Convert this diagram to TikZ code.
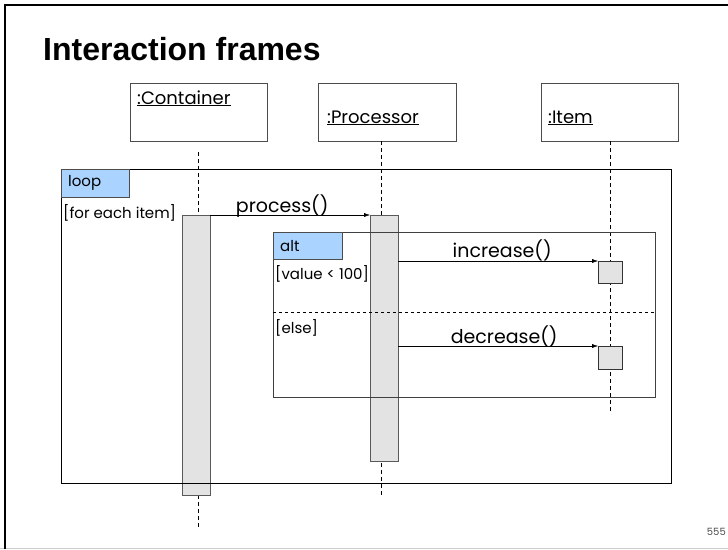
\documentclass[tikz,border=0pt]{standalone}
\usepackage{fontspec}
\setmainfont{Poppins}
\newfontfamily\titlefont{Liberation Sans}
\usetikzlibrary{arrows.meta, positioning, calc}

\definecolor{tabblue}{RGB}{170,212,255}

\tikzset{
  lifehead/.style={draw=black!70, fill=white, anchor=north west, inner sep=0pt,
    minimum width=137pt, minimum height=58pt},
  headtext/.style={anchor=base west, inner sep=0pt, font=\fontsize{18}{20}\selectfont},
  actbox/.style={draw=black!65, fill=black!11, anchor=north west, inner sep=0pt},
  framebox/.style={draw=black, anchor=north west, inner sep=0pt},
  tabbox/.style={draw=black!70, fill=tabblue, anchor=north west, inner xsep=7pt,
    text width=54pt, minimum height=28pt, align=left, font=\fontsize{15}{17}\selectfont},
  guard/.style={anchor=base west, inner sep=0pt, font=\fontsize{15}{17}\selectfont},
  lifeline/.style={draw=black, dash pattern=on 4pt off 3pt},
  msg/.style={draw=black, -{Latex[length=6pt,width=4pt]}},
  msgtext/.style={anchor=base, inner sep=0pt, font=\fontsize{19}{21}\selectfont}
}

\begin{document}
\begin{tikzpicture}[x=1pt, y=-1pt]
  \useasboundingbox (0,0) rectangle (728,549);

  % slide
  \draw[black!20] (0,548) -- (728,548);
  \draw[line width=2.5pt] (5,549) -- (5,5) -- (728,5);
  \node[anchor=base west, inner sep=0pt, font=\titlefont\bfseries\fontsize{32}{36}\selectfont]
    (title) at (43,60) {Interaction frames};
  \node[anchor=base east, inner sep=0pt, text=black!70, font=\fontsize{10}{12}\selectfont]
    (pagenum) at (726,535) {555};

  % lifeline heads
  \node[lifehead] (container) at (130,83) {};
  \node[lifehead, minimum width=138pt] (processor) at (318,83) {};
  \node[lifehead] (item) at (541,83) {};
  \node[headtext] at (137,104) {\underline{:Container}};
  \node[headtext] at (327,123) {\underline{:Processor}};
  \node[headtext] at (548,123) {\underline{:Item}};

  % lifelines
  \coordinate (cTop) at (198,152);
  \coordinate (cEnd) at (198,529);
  \coordinate (pEnd) at (381,495);
  \coordinate (iEnd) at (610,413);
  \draw[lifeline] (cTop) -- (cEnd);
  \draw[lifeline] (processor.south -| pEnd) -- (pEnd);
  \draw[lifeline] (item.south -| iEnd) -- (iEnd);

  % activations
  \node[actbox, minimum width=28pt, minimum height=280pt] (actC) at (182,215) {};
  \node[actbox, minimum width=28pt, minimum height=246pt] (actP) at (370,215) {};
  \node[actbox, draw=black!80, minimum width=24pt, minimum height=22pt] (itemA) at (598,261) {};
  \node[actbox, draw=black!80, minimum width=24pt, minimum height=23pt] (itemB) at (598,346) {};

  % loop frame
  \node[framebox, minimum width=610pt, minimum height=314pt] (loop) at (61,169) {};
  \node[tabbox] (looptab) at (loop.north west) {loop};
  \node[guard] at (63,218) {[for each item]};

  % alt frame
  \node[framebox, draw=black!75, minimum width=382pt, minimum height=165pt] (alt) at (273,232) {};
  \node[tabbox, text width=55pt, minimum height=27pt] (alttab) at (alt.north west) {alt};
  \node[guard] at (275,279) {[value < 100]};
  \draw[dashed] (alt.west |- 0,312) -- (alt.east |- 0,312);
  \node[guard] at (275,333) {[else]};

  % messages
  \draw[msg] (actC.north east) -- (actP.north west)
    node[msgtext, pos=0.45, yshift=3pt] {process()};
  \draw[msg] (actP.east |- itemA.north west) -- (itemA.north west)
    node[msgtext, pos=0.52, yshift=4pt] {increase()};
  \draw[msg] (actP.east |- itemB.north west) -- (itemB.north west)
    node[msgtext, pos=0.53, yshift=3pt] {decrease()};
\end{tikzpicture}
\end{document}
